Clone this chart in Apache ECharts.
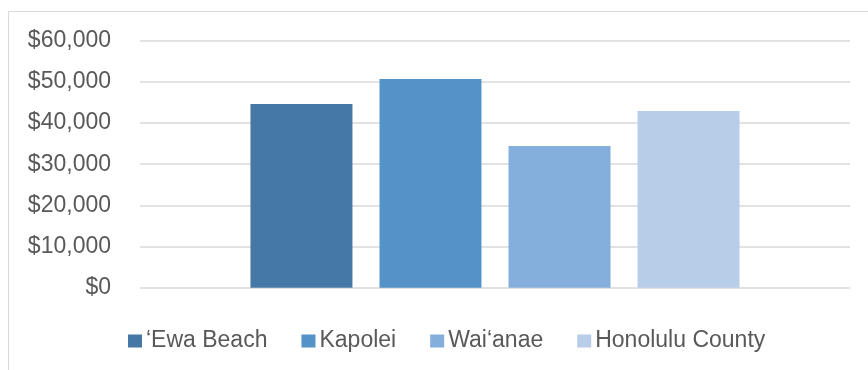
<!DOCTYPE html>
<html>
<head>
<meta charset="utf-8">
<script src="https://cdn.jsdelivr.net/npm/echarts@6/dist/echarts.min.js"></script>
<style>
  html, body { margin: 0; padding: 0; background: #ffffff; }
  #chart { width: 868px; height: 370px; }
</style>
</head>
<body>
<div id="chart"></div>
<script>
// Median income by area
const areas = ['\u2018Ewa Beach', 'Kapolei', 'Wai\u2018anae', 'Honolulu County'];
const incomes = [44600, 50700, 34400, 42900];
const barColors = ['#4678A6', '#5592C7', '#84AEDB', '#B8CDE7'];
const yTicks = [0, 10000, 20000, 30000, 40000, 50000, 60000];

const font = 'Liberation Sans, Arial, sans-serif';
const textGray = '#595959';

const chart = echarts.init(document.getElementById('chart'), null, { renderer: 'canvas' });

const series = areas.map((name, i) => ({
  name: name,
  type: 'bar',
  data: [incomes[i]],
  barWidth: 102,
  barGap: '26.5%',
  itemStyle: { color: barColors[i] },
  emphasis: { disabled: true }
}));

chart.setOption({
  animation: false,
  backgroundColor: '#ffffff',
  graphic: [{
    type: 'rect',
    shape: { x: 8.5, y: 11.5, width: 1000, height: 1000 },
    style: { fill: 'none', stroke: '#D9D9D9', lineWidth: 1 },
    silent: true
  }],
  grid: { left: 140, right: 18, top: 40.7, height: 247, containLabel: false },
  xAxis: {
    type: 'category',
    data: [''],
    axisLine: { show: false },
    axisTick: { show: false },
    axisLabel: { show: false }
  },
  yAxis: {
    type: 'value',
    min: yTicks[0],
    max: yTicks[yTicks.length - 1],
    interval: yTicks[1] - yTicks[0],
    axisLine: { show: false },
    axisTick: { show: false },
    splitLine: { lineStyle: { color: '#D9D9D9', width: 1.5 } },
    axisLabel: {
      margin: 29,
      color: textGray,
      fontFamily: font,
      fontSize: 23,
      formatter: v => '$' + v.toLocaleString('en-US')
    }
  },
  legend: {
    left: 123,
    top: 324.5,
    itemWidth: 14,
    itemHeight: 13,
    itemGap: 34,
    icon: 'rect',
    textStyle: { color: textGray, fontFamily: font, fontSize: 23, padding: [0, 0, 0, -1] },
    data: areas
  },
  series: series
});
</script>
</body>
</html>
